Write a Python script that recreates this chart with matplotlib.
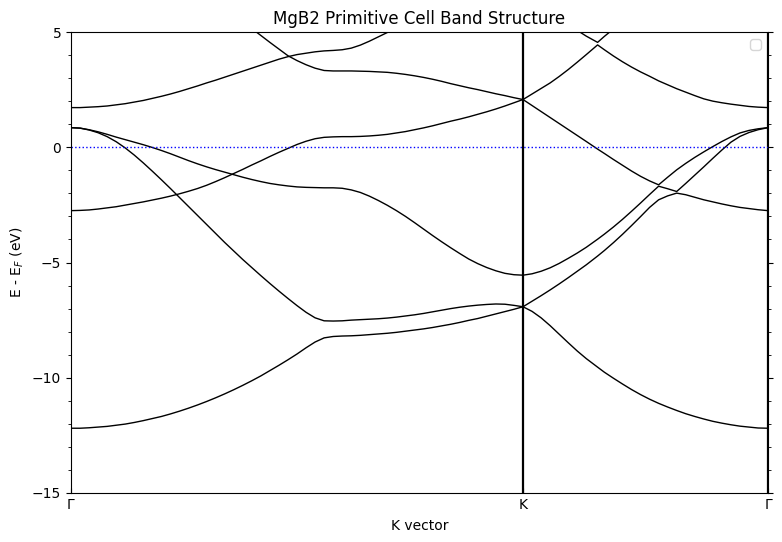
import numpy as np
import matplotlib
matplotlib.use("Agg")
import matplotlib.pyplot as plt
from matplotlib.ticker import MultipleLocator

nan = np.nan

# k-path coordinate (Gamma-K segment has unit length), K at 1.0, second Gamma at 1.542
k_path = [0.00, 0.02, 0.04, 0.06, 0.08, 0.10, 0.12, 0.14, 0.16, 0.18,
          0.20, 0.22, 0.24, 0.26, 0.28, 0.30, 0.32, 0.34, 0.36, 0.38,
          0.40, 0.42, 0.44, 0.46, 0.48, 0.50, 0.52, 0.54, 0.56, 0.58,
          0.60, 0.62, 0.64, 0.66, 0.68, 0.70, 0.72, 0.74, 0.76, 0.78,
          0.80, 0.82, 0.84, 0.86, 0.88, 0.90, 0.92, 0.94, 0.96, 0.98, 1.00,
          1.02, 1.04, 1.06, 1.08, 1.10, 1.12, 1.14, 1.165, 1.18, 1.20,
          1.22, 1.24, 1.26, 1.28, 1.30, 1.32, 1.34, 1.36, 1.38, 1.40,
          1.42, 1.44, 1.46, 1.48, 1.50, 1.52, 1.542]

sym_k = [0.0, 1.0, 1.542]
sym_labels = ["Γ", "K", "Γ"]

# band energies (eV, relative to E_F), one value per k point
band1 = [-12.19, -12.19, -12.17, -12.14, -12.11, -12.06, -12.01, -11.94, -11.86, -11.77,
         -11.68, -11.57, -11.45, -11.32, -11.18, -11.03, -10.87, -10.70, -10.52, -10.33,
         -10.13, -9.92, -9.69, -9.46, -9.22, -8.97, -8.70, -8.45, -8.27, -8.21,
         -8.19, -8.18, -8.16, -8.13, -8.10, -8.07, -8.03, -7.98, -7.93, -7.88,
         -7.82, -7.75, -7.68, -7.60, -7.51, -7.43, -7.33, -7.23, -7.13, -7.03, -6.92,
         -7.12, -7.40, -7.74, -8.11, -8.48, -8.84, -9.17, -9.54, -9.76, -10.02,
         -10.27, -10.51, -10.73, -10.93, -11.11, -11.27, -11.42, -11.56, -11.68, -11.79,
         -11.89, -11.97, -12.04, -12.10, -12.14, -12.18, -12.19]

band2 = [0.85, 0.83, 0.75, 0.63, 0.46, 0.24, -0.03, -0.34, -0.68, -1.04,
         -1.41, -1.79, -2.18, -2.57, -2.96, -3.35, -3.74, -4.13, -4.50, -4.87,
         -5.22, -5.57, -5.91, -6.24, -6.56, -6.87, -7.16, -7.40, -7.53, -7.54,
         -7.53, -7.50, -7.48, -7.46, -7.44, -7.41, -7.37, -7.32, -7.27, -7.21,
         -7.14, -7.07, -7.00, -6.94, -6.89, -6.85, -6.82, -6.80, -6.81, -6.86, -6.92,
         -6.68, -6.44, -6.19, -5.93, -5.66, -5.38, -5.10, -4.72, -4.48, -4.14,
         -3.78, -3.40, -3.01, -2.61, -2.28, -2.11, -1.99, -2.06, -2.17, -2.28,
         -2.37, -2.46, -2.54, -2.61, -2.66, -2.71, -2.75]

band3 = [-2.75, -2.74, -2.72, -2.68, -2.63, -2.58, -2.51, -2.44, -2.37, -2.29,
         -2.21, -2.12, -2.02, -1.91, -1.79, -1.65, -1.49, -1.32, -1.14, -0.96,
         -0.77, -0.59, -0.40, -0.22, -0.05, 0.12, 0.26, 0.37, 0.43, 0.45,
         0.46, 0.46, 0.47, 0.49, 0.52, 0.56, 0.62, 0.68, 0.76, 0.84,
         0.93, 1.03, 1.13, 1.22, 1.32, 1.43, 1.54, 1.66, 1.79, 1.93, 2.07,
         1.81, 1.55, 1.29, 1.03, 0.77, 0.51, 0.25, -0.08, -0.27, -0.53,
         -0.78, -1.03, -1.26, -1.46, -1.63, -1.30, -0.98, -0.70, -0.44, -0.20,
         0.03, 0.25, 0.45, 0.62, 0.73, 0.80, 0.85]

band4 = [0.85, 0.83, 0.76, 0.67, 0.56, 0.44, 0.33, 0.22, 0.11, -0.01,
         -0.14, -0.28, -0.43, -0.58, -0.72, -0.85, -0.97, -1.08, -1.19, -1.30,
         -1.40, -1.49, -1.57, -1.63, -1.68, -1.72, -1.74, -1.75, -1.76, -1.76,
         -1.78, -1.85, -1.96, -2.12, -2.31, -2.52, -2.75, -3.00, -3.27, -3.55,
         -3.83, -4.10, -4.36, -4.61, -4.85, -5.05, -5.22, -5.36, -5.47, -5.53, -5.55,
         -5.49, -5.38, -5.23, -5.04, -4.82, -4.59, -4.34, -3.99, -3.77, -3.46,
         -3.13, -2.78, -2.42, -2.05, -1.69, -1.80, -1.92, -1.57, -1.21, -0.85,
         -0.48, -0.12, 0.22, 0.47, 0.64, 0.76, 0.85]

band5 = [1.72, 1.72, 1.74, 1.76, 1.79, 1.84, 1.89, 1.96, 2.03, 2.12,
         2.21, 2.31, 2.42, 2.54, 2.66, 2.79, 2.91, 3.04, 3.17, 3.30,
         3.43, 3.56, 3.69, 3.82, 3.93, 4.02, 4.08, 4.14, 4.18, 4.20,
         4.23, 4.30, 4.43, 4.60, 4.79, 4.98, 5.17, 5.36, nan, nan,
         nan, nan, nan, nan, nan, nan, nan, nan, nan, nan, nan,
         nan, nan, nan, nan, nan, 5.07, 4.82, 4.55, 4.81, 5.13,
         nan, nan, nan, nan, nan, nan, nan, nan, nan, nan,
         nan, nan, nan, nan, nan, nan, nan]

band6 = [nan, nan, nan, nan, nan, nan, nan, nan, nan, nan,
         nan, nan, nan, nan, nan, nan, nan, nan, nan, 5.45,
         5.15, 4.85, 4.55, 4.26, 3.97, 3.76, 3.58, 3.43, 3.33, 3.31,
         3.31, 3.31, 3.30, 3.29, 3.27, 3.25, 3.21, 3.16, 3.10, 3.03,
         2.95, 2.86, 2.76, 2.67, 2.58, 2.50, 2.41, 2.32, 2.24, 2.15, 2.07,
         2.31, 2.55, 2.79, 3.07, 3.37, 3.69, 4.02, 4.44, 4.23, 3.96,
         3.71, 3.48, 3.27, 3.08, 2.88, 2.71, 2.54, 2.39, 2.24, 2.10,
         2.00, 1.93, 1.87, 1.82, 1.77, 1.74, 1.72]

bands = [band1, band2, band3, band4, band5, band6]

fig = plt.figure(figsize=(7.82, 5.42), dpi=100)
ax = fig.add_axes([71 / 782, 1 - 493 / 542, (768 - 71) / 782, (493 - 32) / 542])

for b in bands:
    assert len(b) == len(k_path)
    ax.plot(k_path, b, color="black", lw=1.0)

for xk in sym_k[1:]:
    ax.axvline(xk, color="black", lw=1.6)

ax.axhline(0.0, color="blue", ls=":", lw=1.0)

ax.set_xlim(sym_k[0], sym_k[-1])
ax.set_ylim(-15, 5)
ax.set_xticks(sym_k)
ax.set_xticklabels(sym_labels)
ax.tick_params(axis="x", direction="in")
ax.yaxis.set_major_locator(MultipleLocator(5))
ax.yaxis.set_minor_locator(MultipleLocator(1))
ax.tick_params(axis="y", which="both", left=True, right=True)

ax.set_xlabel("K vector", labelpad=5.5)
ax.set_ylabel("E - E$_F$ (eV)")
ax.set_title("MgB2 Primitive Cell Band Structure")
ax.legend(loc="upper right")

fig.savefig("out.png", dpi=100)
